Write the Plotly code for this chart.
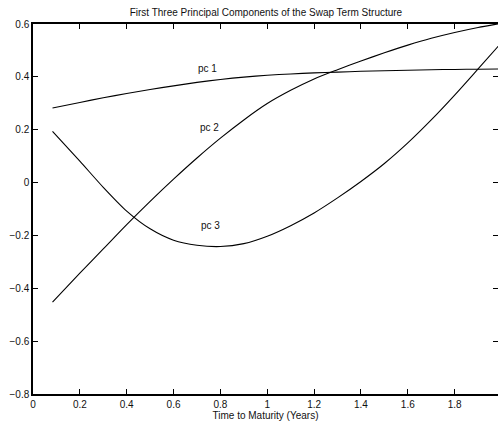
import plotly.graph_objects as go

maturity = [0.0833, 0.2, 0.3, 0.4, 0.5, 0.6, 0.7, 0.8, 0.9, 1.0,
            1.1, 1.2, 1.3, 1.4, 1.5, 1.6, 1.7, 1.8, 1.9, 2.0]
pc1 = [0.282, 0.303, 0.321, 0.337, 0.352, 0.366, 0.379, 0.390, 0.399, 0.406,
       0.411, 0.415, 0.418, 0.421, 0.423, 0.425, 0.427, 0.428, 0.429, 0.430]
pc2 = [-0.452, -0.343, -0.251, -0.159, -0.071, 0.013, 0.093, 0.168, 0.237, 0.299,
       0.349, 0.392, 0.427, 0.460, 0.491, 0.520, 0.546, 0.568, 0.587, 0.603]
pc3 = [0.194, 0.081, -0.018, -0.108, -0.175, -0.218, -0.237, -0.242, -0.231, -0.203,
       -0.163, -0.115, -0.058, 0.004, 0.072, 0.150, 0.237, 0.331, 0.430, 0.530]

labels = ["pc 1", "pc 2", "pc 3"]
label_x = [0.747, 0.755, 0.757]
label_y = [0.433, 0.21, -0.162]

x_ticks = [0, 0.2, 0.4, 0.6, 0.8, 1, 1.2, 1.4, 1.6, 1.8]
x_tick_text = ["0", "0.2", "0.4", "0.6", "0.8", "1", "1.2", "1.4", "1.6", "1.8"]
y_ticks = [-0.8, -0.6, -0.4, -0.2, 0, 0.2, 0.4, 0.6]
y_tick_text = ["\u22120.8", "\u22120.6", "\u22120.4", "\u22120.2", "0", "0.2", "0.4", "0.6"]

FONT = "Liberation Sans, Arial, Helvetica, sans-serif"

fig = go.Figure()
for ys in (pc1, pc2, pc3):
    fig.add_trace(go.Scatter(x=maturity, y=ys, mode="lines",
                             line=dict(color="black", width=1.1, shape="spline", smoothing=0.8),
                             showlegend=False, hoverinfo="skip"))
# invisible trace to activate right y-axis ticks
fig.add_trace(go.Scatter(x=[0], y=[0], yaxis="y2", mode="markers",
                         marker=dict(opacity=0), showlegend=False, hoverinfo="skip"))

for t, x, y in zip(labels, label_x, label_y):
    fig.add_annotation(x=x, y=y, text=t, showarrow=False,
                       font=dict(family=FONT, size=10, color="#111"))

fig.update_layout(
    width=498, height=426,
    margin=dict(l=33, r=0, t=24, b=32),
    paper_bgcolor="white", plot_bgcolor="white",
    font=dict(family=FONT, size=10, color="#111"),
    title=dict(text="First Three Principal Components of the Swap Term Structure",
               x=0.534, xanchor="center", y=1 - 12 / 426, yanchor="middle",
               font=dict(family=FONT, size=10, color="#111")),
    xaxis=dict(range=[0, 1.985], tickvals=x_ticks, ticktext=x_tick_text,
               ticks="inside", ticklen=5, tickcolor="black", tickwidth=1,
               showline=True, linecolor="black", linewidth=1.5, mirror="ticks",
               showgrid=False, zeroline=False,
               title=dict(text="Time to Maturity (Years)", standoff=2,
                          font=dict(family=FONT, size=10, color="#111"))),
    yaxis=dict(range=[-0.8, 0.6], tickvals=y_ticks, ticktext=y_tick_text,
               ticks="inside", ticklen=5, tickcolor="black", tickwidth=1,
               showline=True, linecolor="black", linewidth=1.5,
               showgrid=False, zeroline=False),
    yaxis2=dict(range=[-0.8, 0.6], tickvals=y_ticks, overlaying="y", side="right",
                ticks="inside", ticklen=5, tickcolor="black", tickwidth=1,
                showline=False, showticklabels=False, showgrid=False, zeroline=False),
)

fig.write_html("out.html")
